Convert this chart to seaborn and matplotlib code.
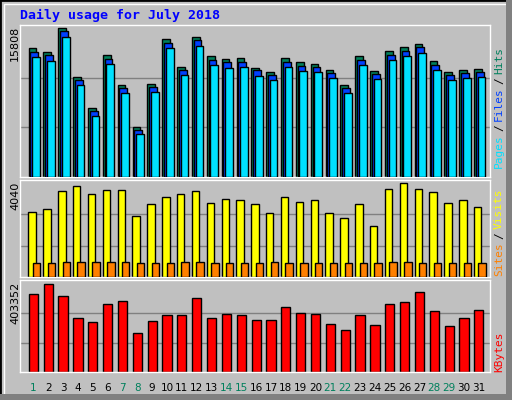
import matplotlib
matplotlib.use("Agg")
import matplotlib.pyplot as plt
import seaborn as sns
import pandas as pd
from matplotlib.patches import Rectangle

sns.set_theme(style="white")
plt.rcParams['font.family'] = ['DejaVu Sans Mono']

days = list(range(1, 32))
hits = [13650,13220,15808,10640,7310,12900,9780,5270,9890,14620,11720,14835,12790,12470,12580,11610,
        11180,12580,12150,12040,11400,9780,12790,11290,13330,13760,14080,12260,11180,11400,11500]
files = [13300,12900,15450,10300,7000,12550,9450,5000,9550,14250,11400,14500,12450,12150,12250,11300,
         10850,12250,11800,11700,11050,9450,12450,10950,12950,13400,13750,11900,10850,11050,11150]
pages = [12700,12300,14850,9750,6500,12000,8900,4550,9050,13650,10800,13900,11900,11600,11700,10750,
         10300,11700,11250,11150,10500,8950,11900,10400,12400,12850,13150,11350,10300,10500,10600]
visits = [2780,2910,3690,3910,3560,3735,3735,2605,3125,3430,3560,3690,3170,3345,3300,3125,
          2735,3430,3215,3300,2735,2520,3125,2170,3780,4040,3780,3650,3170,3300,3000]
sites = [600,610,640,650,660,640,630,600,610,620,630,640,600,610,620,600,
         630,620,600,620,600,600,620,600,660,660,600,620,600,600,600]
kbytes = [357000,403352,347700,245700,227200,310600,324500,176200,231800,259600,259600,338400,245700,264300,259600,236400,
          236400,296700,268900,264300,217900,190100,259600,213300,310600,319900,366200,278200,208600,245700,282800]
weekend = {1,7,8,14,15,21,22,28,29}

W, H = 512, 400
XL, XR = 0.1, 31.75
fig = plt.figure(figsize=(W/100, H/100), dpi=100)
fig.patch.set_facecolor('#C0C0C0')
fig.patches.append(Rectangle((0,0),1,1,transform=fig.transFigure,fill=False,ec='black',lw=2))
fig.patches.append(Rectangle((4/W,4/H),1-8/W,1-8/H,transform=fig.transFigure,fill=False,ec='white',lw=1))
fig.patches.append(Rectangle((506/W,0),6/W,1,transform=fig.transFigure,fc='#808080',ec='none'))
fig.patches.append(Rectangle((0,0),1,6/H,transform=fig.transFigure,fc='#808080',ec='none'))

def mkax(top, bot):
    ax = fig.add_axes([20/W, 1-bot/H, 470/W, (bot-top)/H])
    ax.set_facecolor('#C0C0C0')
    ax.set_xlim(XL, XR)
    for s in ax.spines.values():
        s.set_color('white'); s.set_linewidth(1)
    ax.set_xticks([]); ax.set_yticks([])
    return ax

ekw = dict(edgecolor='black', linewidth=1)
ax1 = mkax(25, 177)
ax1.set_ylim(0, 15808*1.02)
for g in (15808/3, 2*15808/3):
    ax1.axhline(g, color='#808080', lw=1, zorder=0)
x = [d - 0.32 for d in days]
ax1.bar(x, hits, width=0.52, align='edge', color='#00805c', **ekw, zorder=2)
ax1.bar([d+0.12 for d in x], files, width=0.52, align='edge', color='#0040ff', **ekw, zorder=3)
ax1.bar([d+0.24 for d in x], pages, width=0.52, align='edge', color='#00e0ff', **ekw, zorder=4)

ax2 = mkax(180, 277)
ax2.set_ylim(0, 4040*1.03)
for g in (4040/3, 2*4040/3):
    ax2.axhline(g, color='#808080', lw=1, zorder=0)
ax2.bar([d-0.33 for d in days], visits, width=0.5, align='edge', color='#ffff00', **ekw, zorder=2)
ax2.bar([d-0.03 for d in days], sites, width=0.5, align='edge', color='#ff8000', **ekw, zorder=3)

ax3 = mkax(280, 372)
df = pd.DataFrame({'day': days, 'kb': kbytes})
for g in (403352/3, 2*403352/3):
    ax3.axhline(g, color='#808080', lw=1, zorder=0)
sns.barplot(data=df, x='day', y='kb', native_scale=True, width=0.62, color='#ff0000',
            saturation=1, ax=ax3, zorder=2, **ekw)
ax3.set_xlim(XL, XR); ax3.set_ylim(0, 403352*1.04)
ax3.set_xlabel(''); ax3.set_ylabel(''); ax3.set_xticks([]); ax3.set_yticks([])

for d in days:
    fig.text((20 + (d-XL)/(XR-XL)*470)/W, 1-388/H, str(d), ha='center', va='center',
             fontsize=7.5, color='#00805c' if d in weekend else 'black', family='DejaVu Sans')

fig.text(20/W, 1-15/H, 'Daily usage for July 2018', color='#0000ff', fontsize=9.5,
         fontweight='bold', va='center', ha='left')
for txt, y in (('15808', 26), ('4040', 182), ('403352', 282)):
    fig.text(15/W, 1-y/H, txt, rotation=90, ha='center', va='top', fontsize=8, color='black',
             family='DejaVu Sans')

def rlabel(parts, ybottom):
    y = ybottom
    for t, c in parts:
        fig.text(499/W, 1-y/H, t, rotation=90, ha='center', va='bottom', fontsize=8, color=c)
        y -= len(t)*6.8 + 3
rlabel([('Pages', '#00e0ff'), ('/', 'black'), ('Files', '#0040ff'), ('/', 'black'), ('Hits', '#00805c')], 168)
rlabel([('Sites', '#ff8000'), ('/', 'black'), ('Visits', '#ffff00')], 276)
rlabel([('KBytes', '#ff0000')], 372)

fig.savefig('out.png', dpi=100, facecolor=fig.get_facecolor())
